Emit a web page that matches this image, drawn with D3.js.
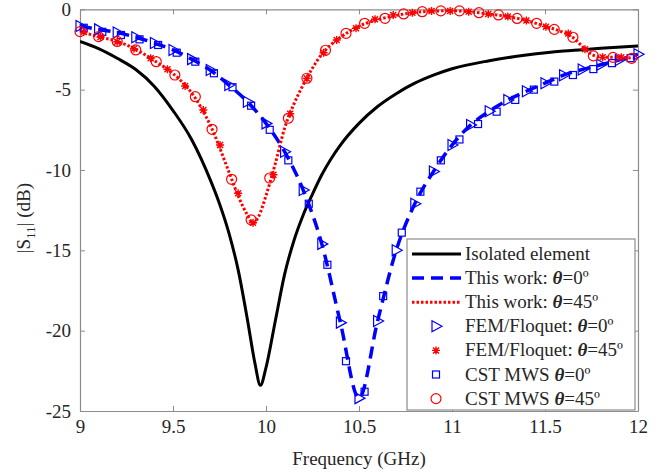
<!DOCTYPE html>
<html><head><meta charset="utf-8">
<script src="https://cdn.jsdelivr.net/npm/d3@7/dist/d3.min.js"></script>
<style>body{margin:0;background:#fff}svg{display:block}text{font-family:"Liberation Serif","Times New Roman",serif;fill:#262626}</style>
</head><body><svg id="c" width="671" height="473"></svg>
<script>
// ---- data ----
const xTicks = [9, 9.5, 10, 10.5, 11, 11.5, 12];
const yTicks = [0, -5, -10, -15, -20, -25];

const isoFreq = [9.0,9.1,9.2,9.3,9.4,9.5,9.6,9.7,9.75,9.8,9.85,9.9,9.94,9.97,10.0,10.05,10.1,10.15,10.2,10.25,10.3,10.35,10.4,10.5,10.6,10.7,10.8,10.9,11.0,11.2,11.4,11.6,11.7,11.8,12.0];
const isoVal  = [-2.0,-2.45,-3.05,-3.75,-4.8,-6.3,-8.1,-10.6,-12.1,-13.9,-16.2,-19.3,-22.0,-23.4,-22.3,-19.4,-16.5,-14.4,-12.8,-11.5,-10.3,-9.3,-8.45,-7.1,-6.05,-5.25,-4.6,-4.1,-3.7,-3.2,-2.85,-2.6,-2.52,-2.43,-2.28];

const tw0Freq = [9.0,9.1,9.2,9.3,9.4,9.5,9.6,9.7,9.8,9.9,10.0,10.1,10.2,10.3,10.4,10.5,10.6,10.7,10.8,10.9,11.0,11.1,11.2,11.3,11.4,11.5,11.6,11.7,11.8,11.9,12.0];
const tw0Val  = [-1.04,-1.25,-1.45,-1.74,-2.1,-2.53,-3.1,-3.78,-4.71,-5.75,-7.1,-8.86,-11.25,-14.6,-19.5,-24.2,-19.4,-15.0,-12.1,-10.1,-8.45,-7.2,-6.35,-5.65,-5.1,-4.6,-4.1,-3.75,-3.45,-3.15,-2.8];

const tw45Freq = [9.0,9.1,9.2,9.3,9.4,9.5,9.6,9.7,9.8,9.85,9.9,9.93,9.96,10.0,10.05,10.1,10.15,10.2,10.3,10.4,10.5,10.6,10.7,10.8,10.9,11.0,11.1,11.2,11.3,11.4,11.5,11.6,11.65,11.7,11.75,11.8,11.9,12.0];
const tw45Val  = [-1.39,-1.7,-2.0,-2.5,-3.2,-4.0,-5.2,-7.2,-10.1,-11.6,-12.8,-13.3,-12.9,-11.6,-9.6,-7.4,-5.9,-4.7,-2.8,-1.75,-1.05,-0.65,-0.38,-0.2,-0.11,-0.09,-0.16,-0.3,-0.45,-0.7,-1.05,-1.45,-1.75,-2.3,-2.8,-2.97,-3.0,-3.05];

const fem0Freq = tw0Freq;
const fem0Val  = tw0Val;

const fem45Freq = [9.02,9.11,9.2,9.29,9.38,9.47,9.565,9.663,9.753,9.85,9.93,10.04,10.13,10.22,10.31,10.38,10.484,10.586,10.684,10.787,10.89,10.99,11.09,11.195,11.3,11.4,11.505,11.625,11.715,11.81,11.91];
const fem45Val  = [-1.42,-1.72,-2.02,-2.45,-3.05,-3.73,-4.77,-6.27,-8.45,-11.45,-13.28,-10.3,-6.5,-4.3,-2.7,-1.91,-1.18,-0.62,-0.35,-0.21,-0.1,-0.1,-0.15,-0.29,-0.45,-0.7,-1.08,-1.5,-2.49,-2.99,-2.99];

const cst0Freq = [9.02,9.12,9.22,9.32,9.42,9.52,9.62,9.72,9.82,9.92,10.02,10.12,10.23,10.33,10.43,10.53,10.63,10.73,10.83,10.94,11.04,11.14,11.24,11.34,11.44,11.55,11.65,11.76,11.86,11.96];
const cst0Val  = [-1.15,-1.4,-1.6,-1.87,-2.22,-2.7,-3.26,-3.98,-4.85,-6.0,-7.5,-9.4,-12.1,-15.9,-21.9,-23.8,-17.85,-13.9,-11.35,-9.4,-8.1,-7.14,-6.37,-5.64,-5.0,-4.5,-4.09,-3.72,-3.35,-3.04];

const cst45Freq = [9.0,9.1,9.2,9.3,9.41,9.51,9.62,9.71,9.815,9.92,10.02,10.12,10.22,10.32,10.43,10.53,10.64,10.74,10.84,10.94,11.04,11.145,11.25,11.35,11.455,11.55,11.65,11.76,11.866,11.966];
const cst45Val  = [-1.39,-1.7,-2.0,-2.53,-3.26,-4.09,-5.44,-7.47,-10.58,-13.1,-10.5,-6.78,-4.29,-2.55,-1.5,-0.87,-0.56,-0.29,-0.15,-0.1,-0.1,-0.21,-0.35,-0.57,-0.87,-1.25,-1.74,-2.9,-2.99,-3.05];

const legendLabels = ["Isolated element","This work: ","This work: ","FEM/Floquet: ","FEM/Floquet: ","CST MWS ","CST MWS "];
const legendTheta = [null,"0º","45º","0º","45º","0º","45º"];

// ---- layout ----
const L = 80, R = 638, T = 9.3, B = 411;
const svg = d3.select("#c");
const x = d3.scaleLinear().domain([9, 12]).range([L, R]);
const y = d3.scaleLinear().domain([-25, 0]).range([B, T]);
const axisCol = "#8c8c8c";
const BLUE = "#0000ff", RED = "#ff0000";

const zip = (f, v) => f.map((d, i) => [d, v[i]]);
const line = d3.line().x(d => x(d[0])).y(d => y(d[1])).curve(d3.curveMonotoneX);

svg.append("defs").append("clipPath").attr("id","clip").append("rect")
  .attr("x", L).attr("y", T).attr("width", R - L).attr("height", B - T);

// axes
const fs = 19;
const gx = svg.append("g").attr("transform", `translate(0,${B})`)
  .call(d3.axisBottom(x).tickValues(xTicks).tickFormat(d3.format("")).tickSizeInner(-5).tickSizeOuter(0).tickPadding(9));
const gxt = svg.append("g").attr("transform", `translate(0,${T})`)
  .call(d3.axisTop(x).tickValues(xTicks).tickFormat("").tickSizeInner(-5).tickSizeOuter(0));
const gy = svg.append("g").attr("transform", `translate(${L},0)`)
  .call(d3.axisLeft(y).tickValues(yTicks).tickFormat(d3.format("")).tickSizeInner(-5).tickSizeOuter(0).tickPadding(9));
const gyr = svg.append("g").attr("transform", `translate(${R},0)`)
  .call(d3.axisRight(y).tickValues(yTicks).tickFormat("").tickSizeInner(-5).tickSizeOuter(0));
[gx, gxt, gy, gyr].forEach(g => {
  g.select(".domain").attr("stroke", axisCol).attr("stroke-width", 1.2);
  g.selectAll(".tick line").attr("stroke", axisCol);
  g.selectAll(".tick text").attr("font-size", fs).attr("font-family", "Liberation Serif").attr("fill", "#262626");
});
gy.selectAll(".tick text").text(d => d === 0 ? "0" : "-" + Math.abs(d));

// axis labels
svg.append("text").attr("x", (L + R) / 2).attr("y", 465).attr("text-anchor", "middle")
  .attr("font-size", fs).text("Frequency (GHz)");
const yl = svg.append("text").attr("transform", `translate(30,${(T + B) / 2 + 8}) rotate(-90)`)
  .attr("text-anchor", "middle").attr("font-size", fs);
yl.append("tspan").text("|S");
yl.append("tspan").attr("font-size", 13).attr("dy", 5).text("11");
yl.append("tspan").attr("dy", -5).text("| (dB)");

const g = svg.append("g").attr("clip-path", "url(#clip)");

// lines
g.append("path").datum(zip(isoFreq, isoVal)).attr("d", line).attr("fill", "none")
  .attr("stroke", "#000").attr("stroke-width", 3);
g.append("path").datum(zip(tw0Freq, tw0Val)).attr("d", line).attr("fill", "none")
  .attr("stroke", BLUE).attr("stroke-width", 3.5).attr("stroke-dasharray", "12,7");
g.append("path").datum(zip(tw45Freq, tw45Val)).attr("d", line).attr("fill", "none")
  .attr("stroke", RED).attr("stroke-width", 3).attr("stroke-dasharray", "2.5,2");

// marker drawers
function tri(sel, c) { sel.append("path").attr("d", "M-4,-5.5L6,0L-4,5.5Z").attr("fill", "none").attr("stroke", c).attr("stroke-width", 1.2); }
function sq(sel, c) { sel.append("rect").attr("x", -3.5).attr("y", -3.5).attr("width", 7).attr("height", 7).attr("fill", "none").attr("stroke", c).attr("stroke-width", 1.2); }
function circ(sel, c) { sel.append("circle").attr("r", 5).attr("fill", "none").attr("stroke", c).attr("stroke-width", 1.2); }
function star(sel, c) { sel.append("path").attr("d", "M-4,0L4,0M0,-4L0,4M-3,-3L3,3M-3,3L3,-3").attr("stroke", c).attr("stroke-width", 1.4); }

function markers(f, v, fn, c) {
  const m = svg.append("g").selectAll("g").data(zip(f, v)).join("g")
    .attr("transform", d => `translate(${x(d[0])},${y(d[1])})`);
  fn(m, c);
}
markers(cst0Freq, cst0Val, sq, BLUE);
markers(fem0Freq, fem0Val, tri, BLUE);
markers(cst45Freq, cst45Val, circ, RED);
markers(fem45Freq, fem45Val, star, RED);

// legend
const lg = svg.append("g");
lg.append("rect").attr("x", 407).attr("y", 239).attr("width", 228).attr("height", 171)
  .attr("fill", "#fff").attr("stroke", axisCol).attr("stroke-width", 1.2);
const rowY = i => 254 + i * 24.1;
const styles = [
  {t: "line", c: "#000", w: 3, da: null},
  {t: "line", c: BLUE, w: 3.5, da: "12,7"},
  {t: "line", c: RED, w: 3, da: "2.5,2"},
  {t: "m", fn: tri, c: BLUE},
  {t: "m", fn: star, c: RED},
  {t: "m", fn: sq, c: BLUE},
  {t: "m", fn: circ, c: RED}
];
legendLabels.forEach((lab, i) => {
  const s = styles[i], yy = rowY(i);
  if (s.t === "line") {
    lg.append("line").attr("x1", 412).attr("x2", 461).attr("y1", yy).attr("y2", yy)
      .attr("stroke", s.c).attr("stroke-width", s.w).attr("stroke-dasharray", s.da);
  } else {
    const mg = lg.append("g").attr("transform", `translate(436,${yy})`);
    s.fn(mg, s.c);
  }
  const t = lg.append("text").attr("x", 465).attr("y", yy + 6).attr("font-size", fs);
  t.append("tspan").text(lab);
  if (legendTheta[i]) {
    t.append("tspan").attr("font-style", "italic").attr("font-weight", "bold").text("θ");
    t.append("tspan").text("=" + legendTheta[i]);
  }
});
</script></body></html>
